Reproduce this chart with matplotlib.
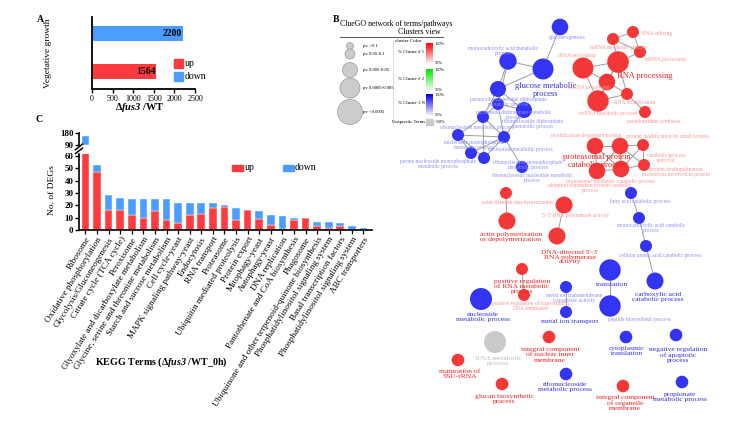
import matplotlib.pyplot as plt
from matplotlib.patches import Circle, Rectangle
import numpy as np

plt.rcParams['font.family'] = ['Liberation Serif', 'DejaVu Serif']
plt.rcParams['mathtext.fontset'] = 'custom'
plt.rcParams['mathtext.rm'] = 'Liberation Serif'
plt.rcParams['mathtext.it'] = 'Liberation Serif:italic'
plt.rcParams['mathtext.bf'] = 'Liberation Serif:bold'
plt.rcParams['mathtext.bfit'] = 'Liberation Serif:italic:bold'

RED = '#FF3B3F'
BLUE = '#4B9EFF'

# ---- panel A data
growth_up = [1564]
growth_down = [2200]
growth_ticks = [0, 500, 1000, 1500, 2000, 2500]

# ---- panel C data
kegg_terms = ['Ribosome', 'Oxidative phosphorylation', 'Glycolysis/Gluconeogenesis',
              'Citrate cycle (TCA cycle)', 'Peroxisome',
              'Glyoxylate and dicarboxylate metabolism',
              'Glycine, serine and threonine metabolism',
              'Starch and sucrose metabolism', 'Cell cycle-yeast',
              'MAPK signaling pathway-yeast', 'Endocytosis', 'RNA transport',
              'Proteasome', 'Ubiquitin mediated proteolysis', 'Protein export',
              'Mitophagy-yeast', 'Autophagy-yeast', 'DNA replication',
              'Pantothenate and CoA biosynthesis', 'Phagosome',
              'Ubiquinone and other terpenoid-quinone biosynthesis',
              'Phosphatidylinositol signaling system', 'Basal transcription factors',
              'Phosphatidylinositol signaling system', 'ABC transporters']
kegg_up = [92, 47, 16, 16, 12, 10, 15, 8, 6, 12, 13, 18, 19, 8, 16, 9, 4, 1, 8, 10, 3, 2, 3, 0, 0]
kegg_down = [67, 6, 12, 10, 13, 15, 10, 17, 16, 10, 9, 4, 1, 9.5, 0, 6, 8, 10, 2, 0, 3.5, 4.5, 2.5, 3, 1.5]
low_ticks = [0, 10, 20, 30, 40, 50, 60]
high_ticks = [90, 180]

# ---- panel B network (ClueGO), cluster 0 = blue, 1 = red, 2 = unspecific
node_x = [560, 508, 543, 498, 498, 524, 483, 458, 504, 471, 484, 522,
          613, 633, 640, 583, 618, 607, 598, 627, 645,
          595, 620, 643, 597, 621, 644,
          631, 639, 646, 655, 610, 610, 566, 566, 506, 507, 564, 557, 522, 524,
          481, 495, 458, 502, 549, 566, 626, 676, 623, 682]
node_y = [27, 61, 69, 89, 104, 110, 117, 135, 137, 153, 158, 167,
          39, 32, 52, 68, 62, 82, 101, 94, 112,
          146, 146, 145, 171, 169, 165,
          193, 218, 246, 281, 270, 306, 287, 312, 193, 221, 205, 236, 269, 295,
          299, 342, 360, 384, 337, 374, 337, 335, 386, 382]
node_r = [8.3, 8.7, 10.5, 8, 6, 8, 6, 6, 6, 6, 6, 6,
          6, 6, 6, 10.5, 10.8, 8.3, 10.7, 6, 6,
          8.3, 8.3, 6, 8.3, 8.3, 6,
          6, 6, 6, 8.5, 10.7, 10.7, 6, 6, 6, 8.5, 8.5, 8.5, 6, 6,
          11, 11, 6.3, 6.3, 6.3, 6.3, 6.3, 6.3, 6.3, 6.3]
node_cluster = [0] * 12 + [1] * 9 + [1] * 6 + [0] * 6 + [0, 0, 1, 1, 1, 1, 1, 1,
                0, 2, 1, 1, 1, 0, 0, 0, 1, 0]
edges = [(0, 2), (1, 2), (1, 3), (1, 4), (2, 3), (3, 4), (3, 5), (4, 5), (4, 6), (3, 6),
         (6, 7), (6, 8), (7, 8), (7, 9), (7, 10), (8, 10), (8, 9), (6, 10), (8, 11),
         (5, 8), (4, 8),
         (12, 13), (13, 14), (12, 14), (12, 16), (14, 16), (15, 16), (15, 17), (15, 18),
         (16, 17), (16, 18), (17, 18), (16, 19), (18, 19), (19, 20), (17, 19),
         (21, 22), (22, 23), (21, 24), (21, 25), (22, 24), (22, 25), (22, 26), (23, 26),
         (24, 25), (25, 26), (23, 25),
         (27, 28), (28, 29), (29, 30), (31, 32), (33, 34), (35, 36), (37, 38), (39, 40)]

# labels: x, y, text, style (bs/rs small, bm/rm medium, bb/rb big, g gray)
net_labels = [
    (567, 38, 'gluconeogenesis', 'bs'),
    (503, 51, 'monocarboxylic acid metabolic\nprocess', 'bs'),
    (508, 102, 'purine ribonucleoside diphosphate\nmetabolic process', 'bs'),
    (514, 115, 'nucleoside diphosphate metabolic\nprocess', 'bs'),
    (533, 124, 'ribonucleoside diphosphate\nmetabolic process', 'bs'),
    (477, 127, 'ribonucleotide metabolic process', 'bs'),
    (474, 145, 'nucleoside monophosphate\nmetabolic process', 'bs'),
    (520, 149, 'nucleotide metabolic process', 'bs'),
    (438, 164, 'purine nucleoside monophosphate\nmetabolic process', 'bs'),
    (528, 165, 'ribonucleoside monophosphate\nmetabolic process', 'bs'),
    (532, 178, 'ribonucleoside nucleotide metabolic\nprocess', 'bs'),
    (640, 201, 'fatty acid catabolic process', 'bs'),
    (651, 228, 'monocarboxylic acid catabolic\nprocess', 'bs'),
    (660, 255, 'cellular amino acid catabolic process', 'bs'),
    (574, 298, 'metal ion transmembrane\ntransporter activity', 'bs'),
    (639, 319, 'peptide biosynthetic process', 'bs'),
    (546, 90, 'glucose metabolic\nprocess', 'bb'),
    (612, 285, 'translation', 'bm'),
    (658, 297, 'carboxylic acid\ncatabolic process', 'bm'),
    (483, 317, 'nucleoside\nmetabolic process', 'bm'),
    (570, 322, 'metal ion transport', 'bm'),
    (627, 351, 'cytoplasmic\ntranslation', 'bm'),
    (678, 355, 'negative regulation\nof apoptotic\nprocess', 'bm'),
    (565, 387, 'ribonucleoside\nmetabolic process', 'bm'),
    (680, 397, 'propionate\nmetabolic process', 'bm'),
    (657, 33, 'RNA splicing', 'rs'),
    (619, 47, 'mRNA metabolic process', 'rs'),
    (577, 55, 'tRNA processing', 'rs'),
    (665, 59, 'mRNA processing', 'rs'),
    (589, 88, 'ncRNA processing', 'rs'),
    (635, 102, 'RNA modification', 'rs'),
    (608, 114, 'ncRNA metabolic process', 'rs'),
    (654, 121, 'pseudouridine synthesis', 'rs'),
    (586, 135, 'modification-dependent protein', 'rs'),
    (667, 136, 'protein modification by small protein', 'rs'),
    (666, 158, 'catabolic process\nremoval', 'rs'),
    (676, 172, 'protein deubiquitination\nproteolysis involved in protein', 'rs'),
    (611, 181, 'proteasome-mediated  catabolic process', 'rs'),
    (590, 188, 'ubiquitin-dependent protein catabolic\nprocess', 'rs'),
    (517, 202, 'actin filament depolymerization', 'rs'),
    (576, 215, "5'-3' RNA polymerase activity", 'rs'),
    (531, 306, 'positive regulation of transcription,\nDNA-templated', 'rs'),
    (645, 76, 'RNA processing', 'rb'),
    (597, 161, 'proteasomal protein\ncatabolic process', 'rb'),
    (511, 237, 'actin polymerization\nor depolymerization', 'rm'),
    (570, 257, "DNA-directed 5'-3'\nRNA polymerase\nactivity", 'rm'),
    (522, 286, 'positive regulation\nof RNA metabolic\nprocess', 'rm'),
    (550, 355, 'integral component\nof nuclear inner\nmembrane', 'rm'),
    (460, 374, 'maturation of\nSSU-rRNA', 'rm'),
    (504, 399, 'glucan biosynthetic\nprocess', 'rm'),
    (625, 403, 'integral component\nof organelle\nmembrane', 'rm'),
    (498, 361, 'RNA metabolic\nprocess', 'g'),
]
pv_labels = ['pv >0.1', 'pv 0.05-0.1', 'pv 0.005-0.05', 'pv 0.0005-0.005', 'pv <0.0005']
pv_y = [46, 54, 70, 88, 112]
pv_r = [3.5, 5, 7.5, 10, 12.5]

fig = plt.figure(figsize=(7.46, 4.29), dpi=100)
W, H = 746.0, 429.0


def box(x0, y0, x1, y1):
    return [x0 / W, 1 - y1 / H, (x1 - x0) / W, (y1 - y0) / H]


# ================= panel A
ax_a = fig.add_axes(box(92, 17, 195, 89))
ax_a.barh([1], growth_down, height=0.39, color=BLUE)
ax_a.barh([0], growth_up, height=0.39, color=RED)
ax_a.set_xlim(0, 2500)
ax_a.set_ylim(-0.453, 1.434)
ax_a.set_xticks(growth_ticks)
ax_a.set_yticks([])
ax_a.tick_params(axis='x', labelsize=5.8, length=3, width=1, pad=1)
for s in ['top', 'right']:
    ax_a.spines[s].set_visible(False)
for s in ['left', 'bottom']:
    ax_a.spines[s].set_linewidth(1.3)
ax_a.text(growth_down[0] - 30, 1, str(growth_down[0]), ha='right', va='center',
          fontsize=7, fontweight='bold')
ax_a.text(growth_up[0] - 30, 0, str(growth_up[0]), ha='right', va='center',
          fontsize=7, fontweight='bold')

# ================= panel C (broken axis)
ax_c = fig.add_axes(box(79, 153.5, 372, 230))
ax_h = fig.add_axes(box(79, 132.6, 372, 145.3))
xs = np.arange(len(kegg_terms))
for ax in (ax_c, ax_h):
    ax.bar(xs, kegg_up, width=0.66, color=RED, edgecolor='white', linewidth=0.3)
    ax.bar(xs, kegg_down, width=0.66, bottom=kegg_up, color=BLUE,
           edgecolor='white', linewidth=0.3)
    ax.set_xlim(-0.56, 24.74)
    for s in ['top', 'right']:
        ax.spines[s].set_visible(False)
    ax.spines['left'].set_linewidth(1.2)
    ax.tick_params(axis='y', labelsize=6.5, length=3, width=1, pad=1)
ax_c.set_ylim(0, 62)
ax_c.set_yticks(low_ticks)
ax_c.spines['bottom'].set_linewidth(1.2)
ax_c.set_xticks(xs)
ax_c.set_xticklabels(kegg_terms, rotation=58, ha='right', rotation_mode='anchor',
                     fontsize=6.6)
ax_c.tick_params(axis='x', length=3, width=0.9, pad=1)
for t in ax_c.get_yticklabels():
    t.set_fontweight('bold')
ax_h.set_ylim(88, 185)
ax_h.set_yticks(high_ticks)
for t in ax_h.get_yticklabels():
    t.set_fontweight('bold')
ax_h.spines['bottom'].set_visible(False)
ax_h.set_xticks([])
# break marks
ax_c.plot([-0.012, 0.012], [1.0, 1.07], transform=ax_c.transAxes, color='black',
          lw=1.1, clip_on=False)
ax_h.plot([-0.012, 0.012], [-0.35, 0.1], transform=ax_h.transAxes, color='black',
          lw=1.1, clip_on=False)

# ================= overlay for panel B and annotations
ax_o = fig.add_axes([0, 0, 1, 1])
ax_o.set_xlim(0, W)
ax_o.set_ylim(H, 0)
ax_o.axis('off')

ax_o.text(37, 19, 'A', fontsize=7, fontweight='bold', ha='left', va='center')
ax_o.text(35, 119, 'C', fontsize=7, fontweight='bold', ha='left', va='center')
ax_o.text(333, 19, 'B', fontsize=7, fontweight='bold', ha='left', va='center')

ax_o.text(48, 53, 'Vegetative growth', rotation=90, fontsize=6.8, ha='center', va='center')
ax_o.text(140, 107, r'$\mathbf{\Delta}\mathbfit{fus3}$ /WT', fontsize=7.5,
          fontweight='bold', ha='center', va='center')
ax_o.add_patch(Rectangle((174, 59), 9, 9, color=RED))
ax_o.text(185, 63.5, 'up', fontsize=7, va='center')
ax_o.add_patch(Rectangle((174, 72), 9, 9, color=BLUE))
ax_o.text(185, 76.5, 'down', fontsize=7, va='center')

ax_o.text(52, 190, 'No. of DEGs', rotation=90, fontsize=6.8, ha='center', va='center')
ax_o.text(161, 362, r'KEGG Terms ($\mathbf{\Delta}\mathbfit{fus3}$ /WT_0h)', fontsize=7.2,
          fontweight='bold', ha='center', va='center')
ax_o.add_patch(Rectangle((232, 165), 11, 6, color=RED))
ax_o.text(245, 168, 'up', fontsize=7, va='center')
ax_o.add_patch(Rectangle((283, 165), 11, 6, color=BLUE))
ax_o.text(295, 168, 'down', fontsize=7, va='center')

# panel B header
ax_o.text(340, 24, 'ClueGO network of terms/pathways', fontsize=5.6, va='center')
ax_o.text(441, 31.5, 'Clusters view', fontsize=5.6, va='center', ha='right')
ax_o.plot([340, 443], [36.5, 36.5], color='#555555', lw=0.7)

# pv legend
for y, r, lab in zip(pv_y, pv_r, pv_labels):
    ax_o.add_patch(Circle((350, y), r, facecolor='#CCCCCC', edgecolor='#9A9A9A', lw=0.5))
    ax_o.text(363, y, lab, fontsize=3.4, va='center')
ax_o.plot([393, 393], [41, 124], color='#CCCCCC', lw=0.5)

# cluster colour legend
ax_o.text(408, 41, 'cluster Color', fontsize=3.6, ha='center', va='center')
bars = [((255, 0, 0), 43, 63, '% Cluster # 1'),
        ((0, 230, 0), 69, 90, '% Cluster # 2'),
        ((0, 0, 235), 94, 115, '% Cluster 3 N')]
for rgb, y0, y1, lab in bars:
    top = np.array(rgb) / 255.0
    grad = np.linspace(0, 1, 40)[:, None, None]
    img = top * (1 - grad * 0.93) + grad * 0.93
    ax_o.imshow(img, extent=[426, 433, y1, y0], aspect='auto', origin='upper')
    ax_o.text(411, (y0 + y1) / 2 - 1, lab, fontsize=3.4, ha='center', va='center')
    ax_o.text(435, y0 + 1, '100%', fontsize=3.2, va='center')
    ax_o.text(435, y1, '50%', fontsize=3.2, va='center')
ax_o.add_patch(Rectangle((426, 119), 7, 6, color='#CCCCCC'))
ax_o.text(409, 122, 'Unspecific Terms', fontsize=3.4, ha='center', va='center')
ax_o.text(435, 122, '<50%', fontsize=3.2, va='center')

# network
node_colors = {0: '#3434F4', 1: '#F43838', 2: '#CACACA'}
for i, j in edges:
    ax_o.plot([node_x[i], node_x[j]], [node_y[i], node_y[j]], color='#9C9C9C',
              lw=0.7, zorder=2)
for x, y, r, c in zip(node_x, node_y, node_r, node_cluster):
    ax_o.add_patch(Circle((x, y), r, facecolor=node_colors[c], edgecolor='none', zorder=3))

label_style = {
    'bs': ('#8E8EFF', 4.0), 'rs': ('#FF9494', 4.0),
    'bm': ('#2E2EF0', 5.4), 'rm': ('#F22020', 5.4),
    'bb': ('#2E2EF0', 6.0), 'rb': ('#F22020', 6.0),
    'g': ('#BDBDBD', 5.4),
}
for x, y, txt, st in net_labels:
    col, fs = label_style[st]
    ax_o.text(x, y, txt, color=col, fontsize=fs, ha='center', va='center',
              linespacing=1.0, zorder=4)

ax_o.set_xlim(0, W)
ax_o.set_ylim(H, 0)

fig.savefig('out.png', dpi=100)
